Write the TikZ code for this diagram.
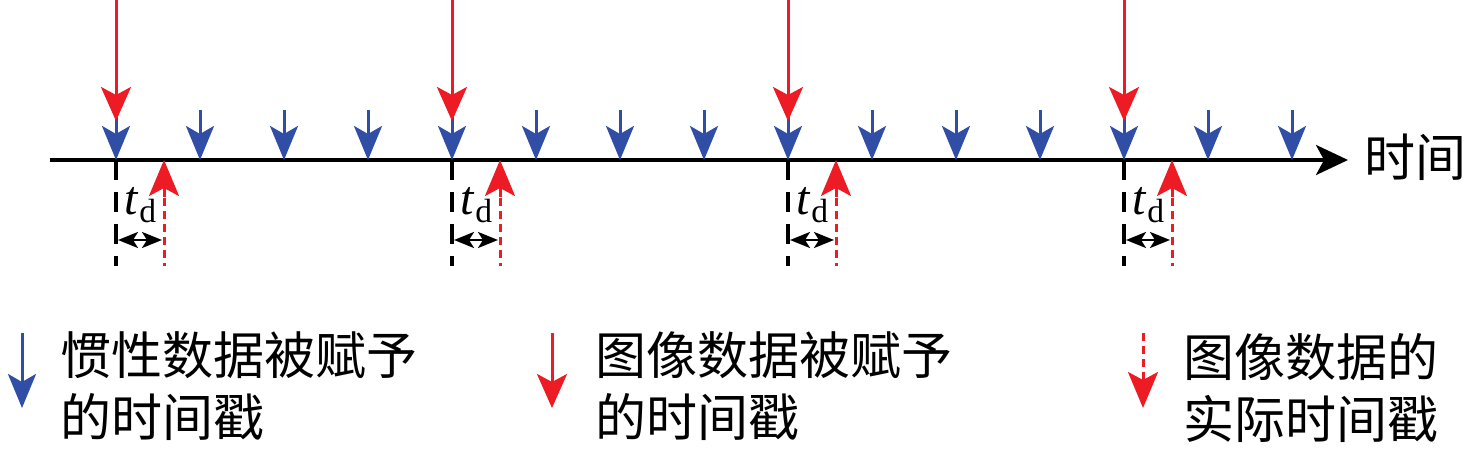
\documentclass[tikz,border=0pt]{standalone}
\usepackage{fontspec}
\setmainfont{Liberation Serif}
\newfontfamily\cjk{Noto Sans CJK SC}
\usetikzlibrary{arrows.meta}
\definecolor{imured}{RGB}{237,28,36}
\definecolor{imublue}{RGB}{48,78,166}
\tikzset{
    bluearrow/.style = {imublue, line width=1.5pt, -{Stealth[length=17pt, width=14pt, inset=4pt]}},
    redarrow/.style  = {imured, line width=1.5pt, -{Stealth[length=17pt, width=15pt, inset=4pt]}},
    redhead/.style   = {imured, line width=1.5pt, -{Stealth[length=18pt, width=15pt, inset=4pt]}},
    reddots/.style   = {imured, line width=1.5pt, dash pattern=on 4pt off 2.5pt},
    blackdash/.style = {black, line width=1.7pt, dash pattern=on 10pt off 6pt},
    delay/.style     = {line width=1.3pt, {Stealth[length=10pt, width=8pt, inset=2.5pt]}-{Stealth[length=10pt, width=8pt, inset=2.5pt]}},
    legendtext/.style = {anchor=west, inner sep=0pt, align=left, font=\cjk\fontsize{25.5}{31}\selectfont}
}
\begin{document}
\begin{tikzpicture}[x=0.5pt, y=-0.5pt]
    \useasboundingbox (0,0) rectangle (1476,453);
    % axis
    \coordinate (start) at (50,160);
    \coordinate (end) at (1348,160);
    \draw[line width=1.7pt, -{Stealth[length=16pt, width=15pt, inset=4pt]}] (start) -- (end);
    \node[anchor=west, inner sep=0pt, font=\cjk\fontsize{25.5}{31}\selectfont] (time) at (1364,157) {时间};
    % inertial timestamps
    \foreach \i in {0,...,14}
        \draw[bluearrow] (116+84*\i,110) -- (116+84*\i,160);
    % image timestamps and delay
    \foreach \i in {0,...,3} {
        \coordinate (m\i) at (116+336*\i,160);
        \coordinate (r\i) at (116+336*\i,121);
        \coordinate (a\i) at (164+336*\i,160);
        \draw[redarrow] (116+336*\i,0) -- (r\i);
        \draw[blackdash] (m\i) -- (116+336*\i,266);
        \draw[reddots] (164+336*\i,198) -- (164+336*\i,266);
        \draw[redhead] (164+336*\i,197) -- (a\i);
        \draw[delay] (118+336*\i,240) -- (162+336*\i,240);
        \node[inner sep=0pt, font=\fontsize{24}{28}\selectfont] (td\i) at (141+336*\i,205) {\textit{t}\textsubscript{d}};
    }
    % legend
    \draw[bluearrow] (22,333) -- (22,408);
    \node[legendtext] (leg1) at (60,386) {惯性数据被赋予\\的时间戳};
    \draw[redarrow] (552,333) -- (552,408);
    \node[legendtext] (leg2) at (595,386) {图像数据被赋予\\的时间戳};
    \draw[reddots] (1143,333) -- (1143,376);
    \draw[redhead] (1143,374) -- (1143,408);
    \node[legendtext] (leg3) at (1183,388) {图像数据的\\实际时间戳};
\end{tikzpicture}
\end{document}
